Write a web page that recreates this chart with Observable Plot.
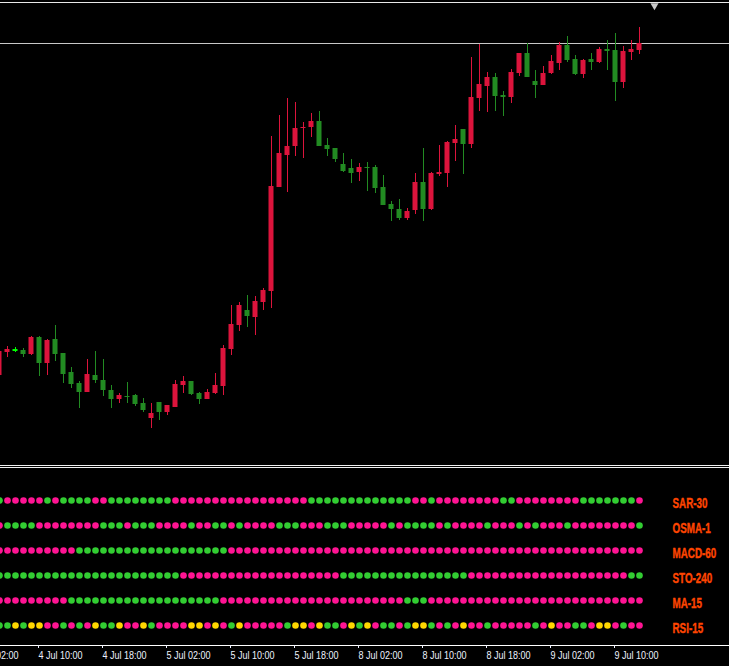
<!DOCTYPE html>
<html><head><meta charset="utf-8">
<script src="https://cdn.jsdelivr.net/npm/d3@7"></script>
<script src="https://cdn.jsdelivr.net/npm/@observablehq/plot@0.6"></script>
<style>
html,body{margin:0;padding:0;background:#000;}
#wrap{width:729px;height:666px;overflow:hidden;background:#000;position:relative}
#topgap{height:2px}
#topline{height:1px;background:#e8e8e8}
#ind{border-top:3px double #f0f0f0}
svg{display:block}
</style></head><body>
<div id="wrap"><div id="topgap"></div><div id="topline"></div><div id="main"></div><div id="ind"></div></div>
<script>
// H1 bars, index 0 = 4 Jul 05:00
const opens = [1625,1648,1650.5,1650,1646,1663,1637,1661,1647,1628,
  1617,1608,1625,1620,1610,1601,1604,1605,1597,1582,
  1598,1588,1593,1615,1619,1607,1601,1607,1614,1651,
  1675,1690,1683,1698,1709,1813,1845,1854,1872,1873,
  1879,1855,1852,1836,1832,1828,1833,1833,1813,1796,
  1791,1782,1790,1818,1791,1826,1827,1857,1871,1856,
  1902,1914,1923,1905,1903,1927,1947,1919,1915,1927,
  1937,1955,1941,1926,1941,1938,1951,1950,1918,1948,
  1950];
const highs = [1651,1654,1653,1652,1664,1664,1661,1675,1647,1633,
  1619,1641,1649,1641,1615,1607,1618,1606,1602,1597,
  1598,1595,1620,1624,1619,1608,1611,1627,1655,1695,
  1698,1705,1704,1712,1864,1885,1902,1898,1878,1887,
  1889,1862,1852,1847,1841,1837,1838,1835,1825,1799,
  1801,1792,1827,1852,1828,1855,1859,1875,1871,1943,
  1956,1928,1927,1909,1931,1947,1957,1930,1934,1945,
  1958,1964,1945,1941,1947,1953,1960,1967,1954,1960,
  1973];
const lows = [1623,1643,1648,1643,1645,1624,1625,1639,1617,1612,
  1592,1608,1617,1604,1592,1597,1597,1594,1588,1572,
  1580,1585,1593,1607,1605,1596,1601,1606,1605,1645,
  1669,1673,1665,1690,1692,1813,1808,1844,1842,1863,
  1854,1844,1838,1828,1817,1819,1809,1807,1795,1779,
  1780,1780,1786,1779,1790,1824,1813,1839,1826,1852,
  1889,1888,1889,1884,1897,1924,1923,1902,1915,1926,
  1930,1938,1925,1922,1930,1937,1930,1899,1912,1940,
  1946];
const closes = [1649,1651,1650.5,1646,1663,1637,1660,1646,1626,1616,
  1608,1626,1620,1610,1601,1605,1603,1596,1590,1587,
  1588,1595,1616,1619,1606,1601,1608,1615,1652,1676,
  1695,1684,1699,1710,1814,1847,1854,1872,1873,1879,
  1854,1851,1841,1829,1827,1833,1832,1812,1795,1791,
  1782,1789,1818,1791,1827,1828,1858,1861,1856,1903,
  1916,1923,1904,1903,1928,1947,1923,1915,1927,1939,
  1955,1940,1926,1940,1938,1951,1949,1918,1949,1951,
  1957];

const tickBars = [-3,5,13,21,29,37,45,53,61,69,77];
const tickLabels = ["4 Jul 02:00","4 Jul 10:00","4 Jul 18:00","5 Jul 02:00","5 Jul 10:00","5 Jul 18:00","8 Jul 02:00","8 Jul 10:00","8 Jul 18:00","9 Jul 02:00","9 Jul 10:00"];

const indicators = ["SAR-30","OSMA-1","MACD-60","STO-240","MA-15","RSI-15"];
// g = up (green), p = down (pink), y = neutral (yellow); one char per bar, grouped by 10 bars
const sarSignals  = "gpppppgpgg ggppgggggg ggpppppppp pppppppppg gggggggggg ggppgppppp pppggppppp pppggggggg p";
const osmaSignals = "pggggppppp pppgggpggg ppppgppggp gppppgggpp pgggpppppg pggggpgppp pgpppgpgpp pgpppppppp g";
const macdSignals = "pppppppppp gggggggggg gggggggggp pppppppppp pppppppppp pppppppppp pppppppppp pppppppppp p";
const stoSignals  = "gggggggggg gggggggggg gggppppppp pppppppppp pppggggggg gggggggggp pppppppppp pppppppppg g";
const maSignals   = "pppppppppg gggggggggg ggggggggpp pppppppppp pppppppppp pgggpppppp pppppppppp pppppppppp p";
const rsiSignals  = "ggygyyppgp gpyggyppyg ppppyypypg ypppppgyyp yggpygypgg pgyygpgpyp pgpppppgpy ppggpyypgp p";

const signalColors = {g:"#32cd32", p:"#ff1493", y:"#ffd700"};
const bullColor = "#dc143c", bearColor = "#228b22", dojiColor = "#00ff00";
const shiftBar = 81.875;

const FONT = "'Liberation Sans',Arial,sans-serif";
const xDomain = [0.125, 91.25];

const candles = opens.map((o,i)=>({i, open:o, high:highs[i], low:lows[i], close:closes[i]}));
const cColor = d => d.close > d.open ? bullColor : d.close < d.open ? bearColor : dojiColor;
const halfBody = 0.3125;

const main = Plot.plot({
  width:729, height:462, margin:0,
  style:{background:"#000", color:"#fff", fontFamily:FONT},
  x:{domain:xDomain, axis:null},
  y:{domain:[1535,1997], range:[462,0], axis:null},
  marks:[
    Plot.ruleY([closes[closes.length-1]], {stroke:"#c8c8c8"}),
    Plot.ruleX(candles, {x:"i", y1:"low", y2:"high", stroke:cColor}),
    Plot.rect(candles.filter(d=>d.open!==d.close), {x1:d=>d.i-halfBody, x2:d=>d.i+halfBody, y1:"open", y2:"close", fill:cColor}),
    Plot.ruleY(candles.filter(d=>d.open===d.close), {y:"open", x1:d=>d.i-halfBody, x2:d=>d.i+halfBody, stroke:cColor, strokeWidth:2}),
    Plot.dot([shiftBar], {x:d=>d, frameAnchor:"top", symbol:"triangle", rotate:180, r:3, fill:"#c8c8c8", dy:2})
  ]
});
document.getElementById("main").appendChild(main);

const rows = [sarSignals, osmaSignals, macdSignals, stoSignals, maSignals, rsiSignals];
const dots = indicators.flatMap((name, r) => [...rows[r].replace(/\s/g,"")].map((c, i) => ({i, name, c})));
const labelMap = new Map(tickBars.map((b,j)=>[b, tickLabels[j]]));

const ind = Plot.plot({
  width:729, height:198, marginTop:0, marginLeft:0, marginRight:0, marginBottom:21,
  style:{background:"#000", color:"#fff", fontFamily:FONT},
  x:{domain:xDomain},
  y:{type:"point", domain:indicators, range:[32,157], padding:0, axis:null},
  marks:[
    Plot.frame({anchor:"bottom", stroke:"#ffffff"}),
    Plot.axisX(tickBars, {tickFormat:d=>labelMap.get(d), label:null, textAnchor:"start", dx:-1, tickSize:3, tickPadding:3, fontSize:11, color:"#eef2ff"}),
    Plot.dot(dots, {x:"i", y:"name", r:3.3, fill:d=>signalColors[d.c]}),
    Plot.text(indicators, {y:d=>d, text:d=>d, frameAnchor:"right", dx:-57, dy:3, textAnchor:"start", fill:"#ff4500", fontWeight:"bold", fontSize:14.5, stroke:"#ff4500", strokeWidth:0.4})
  ]
});
document.getElementById("ind").appendChild(ind);

// narrow the glyphs (horizontal scale about each text's anchor) to match the condensed terminal fonts
function condense(root, selector, factor) {
  root.querySelectorAll(selector).forEach(t => {
    const tr = t.getAttribute("transform") || "";
    const x = +(t.getAttribute("x") || 0);
    t.setAttribute("transform", `${tr} translate(${x},0) scale(${factor},1) translate(${-x},0)`.trim());
  });
}
condense(ind, 'g[aria-label="x-axis tick label"] text', 0.82);
condense(ind, 'g[aria-label="text"] text', 0.68);
</script>
</body></html>
